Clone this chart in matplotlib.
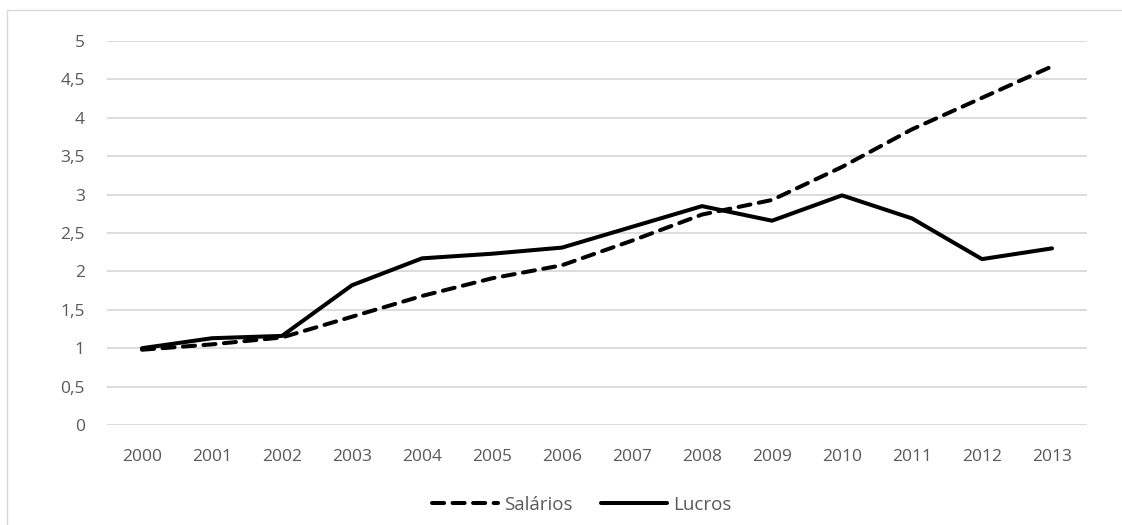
import matplotlib
matplotlib.use("Agg")
import matplotlib.pyplot as plt
from matplotlib.lines import Line2D
from matplotlib.patches import Rectangle

years = ["2000", "2001", "2002", "2003", "2004", "2005", "2006",
         "2007", "2008", "2009", "2010", "2011", "2012", "2013"]
salarios = [0.98, 1.05, 1.14, 1.41, 1.68, 1.91, 2.08, 2.40, 2.74, 2.93, 3.36, 3.85, 4.26, 4.67]
lucros = [1.00, 1.13, 1.16, 1.82, 2.17, 2.23, 2.31, 2.58, 2.85, 2.66, 2.99, 2.69, 2.16, 2.30]
yticks = [0, 0.5, 1, 1.5, 2, 2.5, 3, 3.5, 4, 4.5, 5]
ytick_labels = ["0", "0,5", "1", "1,5", "2", "2,5", "3", "3,5", "4", "4,5", "5"]

plt.rcParams['font.family'] = ['Open Sans', 'DejaVu Sans']

W, H = 1122, 525
fig = plt.figure(figsize=(W / 100, H / 100), dpi=100)
ax = fig.add_axes([107 / W, 1 - 425 / H, (1087 - 107) / W, (425 - 41) / H])

# outer chart-area frame (cut off at right and bottom)
fig.patches.append(Rectangle((7 / W, -0.1), 1.2, 1 - 10 / H + 0.1, transform=fig.transFigure,
                             fill=False, edgecolor="#d9d9d9", linewidth=1.0))

LW = 2.9
DASH = (0, (3.0, 2.1))
x = list(range(len(years)))
ax.plot(x, salarios, color="black", linewidth=LW, linestyle=DASH,
        dash_capstyle="round", dash_joinstyle="round", label="Salários")
ax.plot(x, lucros, color="black", linewidth=LW, solid_capstyle="round",
        solid_joinstyle="round", label="Lucros")

ax.set_xlim(-0.5, len(years) - 0.5)
ax.set_ylim(0, 5)
ax.set_yticks(yticks)
ax.set_yticklabels(ytick_labels)
ax.set_xticks(x)
ax.set_xticklabels(years)
ax.grid(axis="y", color="#d9d9d9", linewidth=1.3)
ax.set_axisbelow(True)
for s in ax.spines.values():
    s.set_visible(False)
ax.tick_params(axis="both", length=0, colors="#595959", labelsize=12.5)
ax.tick_params(axis="x", pad=17)
ax.tick_params(axis="y", pad=16)

handles = [Line2D([], [], color="black", linewidth=LW, linestyle=DASH, dash_capstyle="round"),
           Line2D([], [], color="black", linewidth=LW, solid_capstyle="round")]
leg = fig.legend(handles, ["Salários", "Lucros"], loc="center", bbox_to_anchor=(582 / W, 1 - 505 / H),
                 ncol=2, frameon=False, fontsize=13.5, handlelength=3.5, handletextpad=0.35,
                 columnspacing=1.5, labelcolor="#595959", borderpad=0, borderaxespad=0)

fig.savefig("out.png", dpi=100)
